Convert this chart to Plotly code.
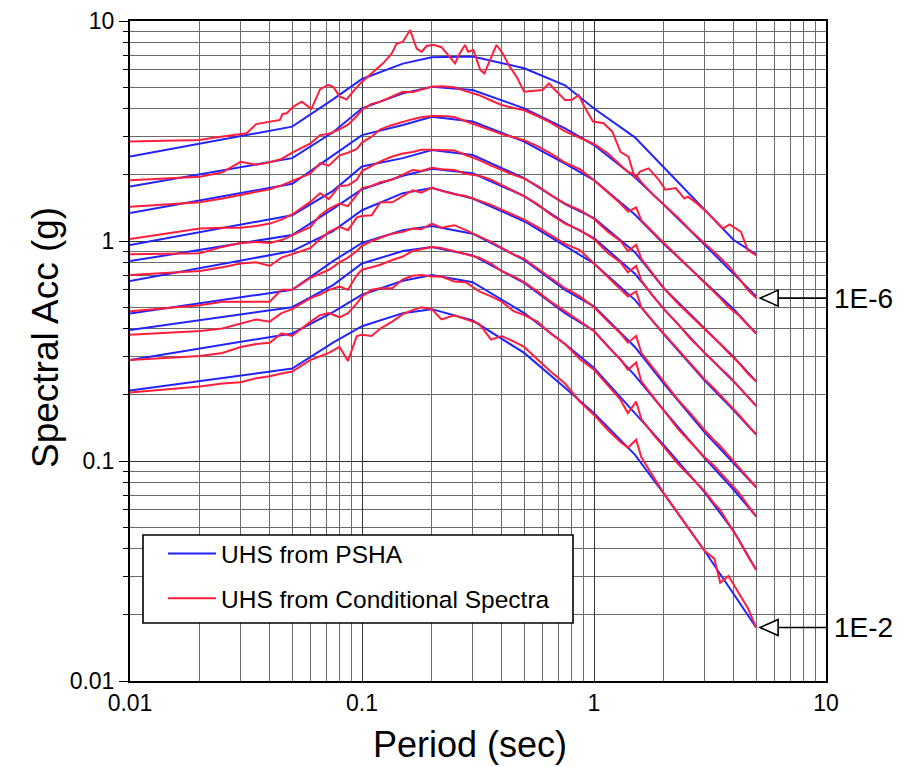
import math
import plotly.graph_objects as go

# ---------------- data ----------------
uhs_periods = [0.01, 0.05, 0.075, 0.1, 0.15, 0.2, 0.3, 0.5, 0.75, 1.0, 1.5, 2.0, 3.0, 4.0, 5.0]
uhs_psha = [
    [2.42, 3.31, 4.4, 5.45, 6.4, 6.85, 6.9, 6.1, 5.1, 4.0, 2.96, 2.16, 1.39, 1.01, 0.87],
    [1.77, 2.38, 3.12, 4.01, 4.69, 5.03, 4.86, 4.01, 3.25, 2.73, 1.95, 1.46, 0.96, 0.71, 0.56],
    [1.34, 1.82, 2.45, 3.03, 3.37, 3.67, 3.49, 2.83, 2.25, 1.89, 1.32, 0.97, 0.65, 0.49, 0.38],
    [0.96, 1.31, 1.69, 2.18, 2.38, 2.59, 2.46, 1.93, 1.47, 1.27, 0.89, 0.61, 0.40, 0.297, 0.23],
    [0.81, 1.065, 1.40, 1.72, 1.98, 2.13, 2.03, 1.6, 1.21, 1.03, 0.71, 0.49, 0.31, 0.23, 0.178],
    [0.658, 0.90, 1.11, 1.38, 1.65, 1.74, 1.56, 1.23, 0.95, 0.79, 0.54, 0.376, 0.232, 0.17, 0.132],
    [0.468, 0.60, 0.81, 0.98, 1.12, 1.17, 1.08, 0.82, 0.60, 0.505, 0.33, 0.225, 0.135, 0.098, 0.076],
    [0.394, 0.50, 0.63, 0.79, 0.90, 0.94, 0.86, 0.645, 0.47, 0.39, 0.245, 0.17, 0.103, 0.074, 0.056],
    [0.288, 0.38, 0.475, 0.57, 0.66, 0.70, 0.65, 0.47, 0.34, 0.265, 0.165, 0.118, 0.072, 0.048, 0.032],
    [0.209, 0.263, 0.345, 0.41, 0.47, 0.49, 0.435, 0.31, 0.215, 0.165, 0.107, 0.071, 0.039, 0.025, 0.0175],
]

cs_periods_top = [0.01, 0.02, 0.0221, 0.0318, 0.035, 0.0443, 0.0455, 0.0474, 0.0506, 0.055, 0.0605, 0.066,
                  0.0715, 0.0752, 0.0802, 0.0859, 0.0918, 0.1, 0.112, 0.1233, 0.1342, 0.1408, 0.15, 0.1612,
                  0.172, 0.1806, 0.19, 0.2035, 0.22, 0.2355, 0.252, 0.2634, 0.278, 0.2867, 0.302, 0.3236,
                  0.3372, 0.3566, 0.38, 0.405, 0.433, 0.464, 0.5, 0.6, 0.64, 0.68, 0.75, 0.8, 0.86, 0.91,
                  0.99, 1.1, 1.2, 1.3, 1.41, 1.5, 1.58, 1.72, 1.9, 2.03, 2.25, 2.45, 2.54, 2.76, 3.05, 3.6,
                  3.84, 4.3, 4.6, 5.0]
cs_top = [2.83, 2.88, 2.93, 3.09, 3.4, 3.55, 3.78, 3.81, 4.08, 4.3, 3.98, 4.9, 5.12, 5.02, 4.53, 4.4, 4.8,
          5.3, 5.88, 6.42, 7.1, 7.88, 8.05, 9.1, 7.5, 7.25, 7.7, 7.8, 7.6, 7.0, 6.42, 7.1, 7.78, 7.25, 7.38,
          5.98, 5.78, 6.65, 7.78, 7.1, 6.2, 5.58, 4.77, 4.86, 5.2, 4.86, 4.37, 4.37, 4.6, 4.07, 3.49, 3.43,
          3.14, 2.54, 2.41, 1.93, 2.07, 2.14, 1.9, 1.71, 1.74, 1.56, 1.59, 1.49, 1.36, 1.14, 1.19, 1.10,
          0.91, 0.86]

cs_periods = [0.01, 0.02, 0.025, 0.03, 0.035, 0.04, 0.045, 0.05, 0.06, 0.066, 0.072, 0.08, 0.087, 0.095,
              0.1, 0.11, 0.12, 0.135, 0.15, 0.165, 0.18, 0.2, 0.22, 0.25, 0.28, 0.32, 0.36, 0.4, 0.45, 0.5,
              0.57, 0.65, 0.75, 0.87, 1.0, 1.15, 1.3, 1.4, 1.52, 1.6, 1.8, 2.0, 2.3, 2.6, 3.0, 3.3, 3.5,
              3.8, 4.2, 4.6, 5.0]
cs_lower = [
    [1.89, 1.96, 2.05, 2.29, 2.22, 2.28, 2.36, 2.52, 2.78, 3.03, 3.07, 3.22, 3.38, 3.7, 3.95, 4.2, 4.3,
     4.55, 4.77, 4.75, 4.86, 5.03, 5.05, 5.0, 4.8, 4.6, 4.35, 4.15, 4.02, 3.93, 3.7, 3.45, 3.15, 2.93,
     2.76, 2.5, 2.22, 2.06, 1.99, 1.85, 1.62, 1.47, 1.28, 1.12, 0.97, 0.89, 0.84, 0.77, 0.68, 0.6, 0.55],
    [1.43, 1.5, 1.56, 1.62, 1.67, 1.72, 1.79, 1.87, 2.03, 2.26, 2.2, 2.45, 2.52, 2.62, 2.8, 2.98, 3.22,
     3.37, 3.49, 3.58, 3.65, 3.7, 3.7, 3.66, 3.5, 3.33, 3.18, 3.06, 2.96, 2.87, 2.7, 2.5, 2.27, 2.12,
     1.89, 1.65, 1.48, 1.36, 1.42, 1.24, 1.09, 0.98, 0.85, 0.75, 0.65, 0.59, 0.55, 0.5, 0.46, 0.415, 0.38],
    [1.02, 1.14, 1.15, 1.15, 1.17, 1.2, 1.25, 1.32, 1.51, 1.65, 1.55, 1.78, 1.79, 1.9, 2.08, 2.2, 2.3,
     2.42, 2.5, 2.54, 2.6, 2.6, 2.6, 2.58, 2.46, 2.33, 2.2, 2.1, 2.0, 1.92, 1.78, 1.62, 1.48, 1.38,
     1.26, 1.1, 1.0, 0.9, 0.96, 0.83, 0.71, 0.61, 0.52, 0.46, 0.4, 0.36, 0.34, 0.31, 0.28, 0.25, 0.23],
    [0.87, 0.88, 0.94, 0.98, 0.99, 0.98, 1.01, 1.06, 1.16, 1.31, 1.4, 1.48, 1.44, 1.62, 1.74, 1.78, 1.85,
     1.9, 2.0, 2.1, 2.08, 2.15, 2.12, 2.1, 2.02, 1.98, 1.9, 1.8, 1.7, 1.6, 1.47, 1.32, 1.2, 1.12, 1.02,
     0.88, 0.8, 0.72, 0.77, 0.66, 0.56, 0.49, 0.42, 0.36, 0.31, 0.28, 0.265, 0.245, 0.218, 0.196, 0.178],
    [0.70, 0.73, 0.76, 0.79, 0.80, 0.77, 0.84, 0.87, 0.93, 1.02, 1.1, 1.16, 1.12, 1.28, 1.3, 1.31, 1.5,
     1.5, 1.6, 1.7, 1.66, 1.75, 1.69, 1.63, 1.6, 1.53, 1.46, 1.39, 1.31, 1.25, 1.16, 1.06, 0.97, 0.91,
     0.79, 0.69, 0.61, 0.56, 0.59, 0.5, 0.43, 0.38, 0.32, 0.28, 0.235, 0.213, 0.2, 0.183, 0.163, 0.146, 0.132],
    [0.48, 0.51, 0.53, 0.53, 0.53, 0.53, 0.6, 0.6, 0.68, 0.71, 0.74, 0.8, 0.84, 0.9, 0.95, 1.0, 1.03,
     1.08, 1.1, 1.14, 1.13, 1.2, 1.15, 1.18, 1.12, 1.05, 0.99, 0.93, 0.87, 0.83, 0.75, 0.68, 0.61, 0.56,
     0.5, 0.43, 0.38, 0.345, 0.37, 0.31, 0.265, 0.23, 0.19, 0.165, 0.138, 0.124, 0.117, 0.106, 0.094,
     0.084, 0.076],
    [0.375, 0.39, 0.40, 0.42, 0.44, 0.43, 0.47, 0.49, 0.55, 0.57, 0.6, 0.62, 0.6, 0.7, 0.74, 0.76, 0.78,
     0.82, 0.85, 0.9, 0.92, 0.94, 0.93, 0.9, 0.87, 0.84, 0.79, 0.73, 0.69, 0.65, 0.59, 0.53, 0.48, 0.43,
     0.39, 0.33, 0.29, 0.26, 0.28, 0.23, 0.195, 0.17, 0.14, 0.122, 0.104, 0.095, 0.089, 0.081, 0.072,
     0.063, 0.056],
    [0.288, 0.30, 0.31, 0.33, 0.34, 0.345, 0.38, 0.37, 0.43, 0.46, 0.47, 0.45, 0.47, 0.52, 0.56, 0.6, 0.61,
     0.61, 0.67, 0.695, 0.7, 0.69, 0.69, 0.655, 0.65, 0.59, 0.56, 0.53, 0.48, 0.46, 0.43, 0.38, 0.34,
     0.29, 0.26, 0.22, 0.19, 0.165, 0.186, 0.155, 0.132, 0.116, 0.097, 0.085, 0.073, 0.064, 0.06, 0.052,
     0.044, 0.037, 0.032],
    [0.205, 0.218, 0.225, 0.228, 0.238, 0.243, 0.25, 0.255, 0.288, 0.30, 0.31, 0.33, 0.285, 0.37, 0.375,
     0.37, 0.40, 0.43, 0.465, 0.485, 0.50, 0.49, 0.44, 0.46, 0.44, 0.42, 0.356, 0.37, 0.35, 0.33, 0.29,
     0.255, 0.225, 0.186, 0.162, 0.138, 0.122, 0.115, 0.125, 0.104, 0.085, 0.0713, 0.058, 0.048, 0.039,
     0.036, 0.028, 0.03, 0.025, 0.0215, 0.0175],
]

legend_labels = ["UHS from PSHA", "UHS from Conditional Spectra"]
curve_labels = ["1E-6", "1E-2"]      # labelled curves: 2nd from top and bottom
x_title = "Period (sec)"
y_title = "Spectral Acc (g)"
x_ticks = [0.01, 0.1, 1, 10]
x_ticktext = ["0.01", "0.1", "1", "10"]
y_ticks = [0.01, 0.1, 1, 10]
y_ticktext = ["0.01", "0.1", "1", "10"]

BLUE = "#2323ff"
RED = "#ff1e3c"
FONT = "Liberation Sans, Arial, Helvetica, sans-serif"

fig = go.Figure()

# blue PSHA curves
for i, vals in enumerate(uhs_psha):
    fig.add_trace(go.Scatter(x=uhs_periods, y=vals, mode="lines",
                             line=dict(color=BLUE, width=2), name=legend_labels[0],
                             legendgroup="psha", showlegend=(i == 0)))
# red CS curves
fig.add_trace(go.Scatter(x=cs_periods_top, y=cs_top, mode="lines",
                         line=dict(color=RED, width=2), name=legend_labels[1],
                         legendgroup="cs", showlegend=True))
for vals in cs_lower:
    fig.add_trace(go.Scatter(x=cs_periods, y=vals, mode="lines",
                             line=dict(color=RED, width=2), name=legend_labels[1],
                             legendgroup="cs", showlegend=False))

minor_vals = [m * 10 ** e for e in (-2, -1, 0) for m in range(2, 10)]

axis_common = dict(type="log", showline=True, mirror=True, linecolor="black", linewidth=2,
                   showgrid=True, gridcolor="#333333", gridwidth=1.2, zeroline=False,
                   automargin=False,
                   tickfont=dict(family=FONT, size=23, color="black"))

fig.update_xaxes(range=[-2, 1], tickmode="array", tickvals=x_ticks, ticktext=x_ticktext,
                 ticks="",
                 minor=dict(tickmode="array", tickvals=minor_vals, showgrid=True,
                            gridcolor="#6a6a6a", gridwidth=1, ticks=""),
                 **axis_common)
fig.update_yaxes(range=[-2, 1], tickmode="array", tickvals=y_ticks, ticktext=y_ticktext,
                 ticks="outside", ticklen=9, tickcolor="black", tickwidth=1,
                 minor=dict(tickmode="array", tickvals=minor_vals, showgrid=True,
                            gridcolor="#6a6a6a", gridwidth=1, ticks="outside", ticklen=5,
                            tickcolor="black"),
                 **axis_common)

# plot area geometry (px) used to convert pixel offsets to paper units
W_PX, H_PX = 696.0, 660.0
def px_(T):
    return (math.log10(T) + 2) / 3
def py_(v):
    return (math.log10(v) + 2) / 3

# axis titles
fig.add_annotation(xref="paper", yref="paper", x=340 / W_PX, y=-63 / H_PX, text=x_title,
                   showarrow=False, xanchor="center", yanchor="middle",
                   font=dict(family=FONT, size=36, color="black"))
fig.add_annotation(xref="paper", yref="paper", x=-85 / W_PX, y=343 / H_PX, text=y_title,
                   textangle=-90, showarrow=False, xanchor="center", yanchor="middle",
                   font=dict(family=FONT, size=37, color="black"))

# arrows pointing to labelled curves (positions derived from the data)
tip_x = px_(cs_periods[-1] * 1.04)
for label, yv in zip(curve_labels, [cs_lower[0][-1], cs_lower[-1][-1]]):
    ty = py_(yv)
    bx = tip_x + 18 / W_PX
    hh = 8 / H_PX
    fig.add_shape(type="line", xref="paper", yref="paper", x0=bx, x1=bx + 48 / W_PX, y0=ty, y1=ty,
                  line=dict(color="black", width=1.6))
    fig.add_shape(type="path", xref="paper", yref="paper",
                  path=f"M {tip_x},{ty} L {bx},{ty + hh} L {bx},{ty - hh} Z",
                  fillcolor="white", line=dict(color="black", width=1.6))
    fig.add_annotation(xref="paper", yref="paper", x=bx + 54 / W_PX, y=ty, text=label,
                       showarrow=False, xanchor="left", yanchor="middle",
                       font=dict(family=FONT, size=28, color="black"))

# legend frame
fig.add_shape(type="rect", xref="paper", yref="paper", x0=13 / W_PX, x1=443 / W_PX,
              y0=58 / H_PX, y1=146 / H_PX, fillcolor="white", line=dict(color="black", width=1.6),
              layer="above")

fig.update_layout(
    width=900, height=759,
    margin=dict(l=122, r=82, t=13, b=86),
    paper_bgcolor="white", plot_bgcolor="white",
    font=dict(family=FONT, color="black"),
    legend=dict(x=33 / W_PX, y=150 / H_PX, xanchor="left", yanchor="top",
                bgcolor="rgba(0,0,0,0)", borderwidth=0,
                font=dict(family=FONT, size=24.5, color="black"),
                tracegroupgap=10, itemwidth=48),
)

fig.write_html("out.html")
